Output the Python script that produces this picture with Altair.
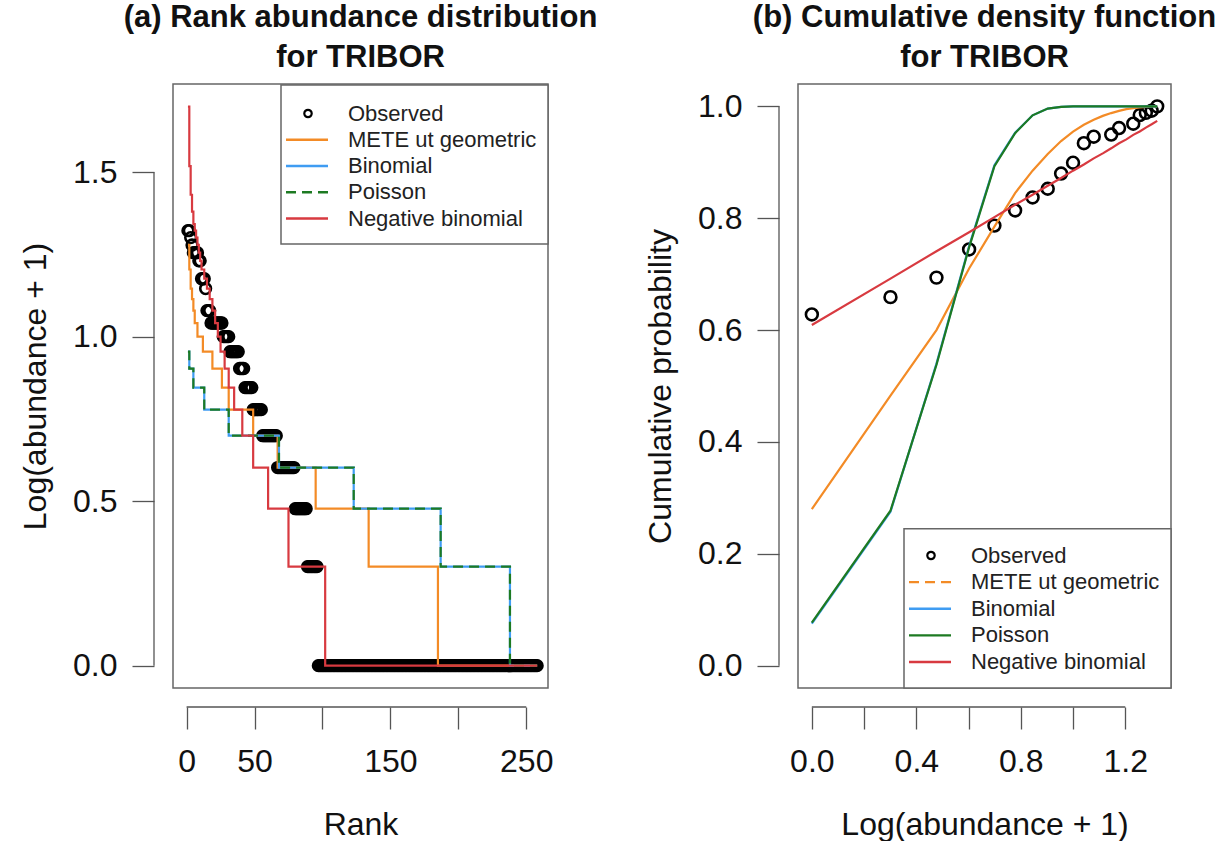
import altair as alt
import numpy as np
import pandas as pd

FONT = "Liberation Sans"
AXIS_GRAY = "#555555"
FRAME_GRAY = "#666666"
TEXT = "#111111"

series_names = ["Observed", "METE ut geometric", "Binomial", "Poisson", "Negative binomial"]
series_colors = ["#000000", "#F38B26", "#3F9CF2", "#1D7A22", "#D83A40"]

# ---------- (a) rank abundance: abundance level and number of species at that level ----------
obs_levels = [20, 19, 18, 17, 16, 14, 13, 11, 10, 9, 8, 7, 6, 5, 4, 3, 2, 1, 0]
obs_counts = [2, 1, 1, 4, 2, 3, 1, 3, 9, 5, 7, 4, 6, 7, 11, 13, 9, 8, 162]

mete_levels = [18, 15, 13, 12, 11, 10, 9, 8, 7, 6, 5, 4, 3, 2, 1, 0]
mete_counts = [1, 1, 1, 1, 1, 2, 4, 7, 7, 5, 18, 18, 28, 39, 51, 74]

binom_levels = [8, 7, 6, 5, 4, 3, 2, 1, 0]
binom_counts = [1, 3, 8, 18, 37, 55, 64, 51, 21]

pois_levels = [8, 7, 6, 5, 4, 3, 2, 1, 0]
pois_counts = [1, 3, 8, 18, 37, 55, 64, 51, 21]

negbin_levels = [49, 32, 26, 23, 21, 20, 19, 18, 17, 16, 15, 14, 13, 12, 11, 10, 9, 8, 7, 6, 5, 4, 3, 2, 1, 0]
negbin_counts = [1, 1, 1, 1, 1, 1, 1, 1, 1, 1, 2, 2, 2, 2, 2, 2, 2, 3, 3, 4, 6, 8, 11, 15, 27, 157]

# ---------- (b) cumulative density at abundance 0..20 ----------
cdf_abund = list(range(21))
cdf_mete = [0.280, 0.483, 0.600, 0.710, 0.785, 0.845, 0.885, 0.915, 0.938, 0.955, 0.967,
            0.976, 0.983, 0.988, 0.992, 0.995, 0.997, 0.998, 0.999, 1.0, 1.0]
cdf_binom = [0.075, 0.275, 0.540, 0.750, 0.895, 0.953, 0.984, 0.996, 0.999, 1.0, 1.0,
             1.0, 1.0, 1.0, 1.0, 1.0, 1.0, 1.0, 1.0, 1.0, 1.0]
cdf_pois = [0.077, 0.277, 0.538, 0.748, 0.893, 0.952, 0.984, 0.996, 0.999, 1.0, 1.0,
            1.0, 1.0, 1.0, 1.0, 1.0, 1.0, 1.0, 1.0, 1.0, 1.0]
cdf_negbin = [0.609, 0.692, 0.741, 0.775, 0.802, 0.824, 0.842, 0.858, 0.872, 0.885, 0.896,
              0.907, 0.916, 0.925, 0.934, 0.941, 0.949, 0.955, 0.962, 0.968, 0.974]


def rank_frame(levels, counts):
    vals = np.repeat(np.array(levels, dtype=float), counts)
    return pd.DataFrame({"rank": np.arange(1, len(vals) + 1), "value": np.log10(vals + 1)})


obs_rank = rank_frame(obs_levels, obs_counts)
mete_rank = rank_frame(mete_levels, mete_counts)
binom_rank = rank_frame(binom_levels, binom_counts)
pois_rank = rank_frame(pois_levels, pois_counts)
negbin_rank = rank_frame(negbin_levels, negbin_counts)

n_species = int(sum(obs_counts))
asc = sorted(zip(obs_levels, obs_counts))
obs_cdf = pd.DataFrame({
    "x": [np.log10(a + 1) for a, _ in asc],
    "p": list(np.cumsum([c for _, c in asc]) / n_species),
})


def cdf_frame(values):
    return pd.DataFrame({"x": np.log10(np.array(cdf_abund, dtype=float) + 1), "p": values})


W_A, W_B, H = 375, 373, 604
OFF = 19


def axis(title, values, fmt, label_expr=None, lab_pad=15, title_pad=20):
    kw = dict(title=title, values=values, format=fmt, offset=OFF, domain=False, grid=False,
              tickSize=22, tickColor=AXIS_GRAY, tickWidth=1.3,
              labelFont=FONT, labelFontSize=32, labelColor=TEXT, labelPadding=lab_pad,
              labelOverlap=False, labelFlush=False,
              titleFont=FONT, titleFontSize=32, titleFontWeight="normal", titleColor=TEXT,
              titlePadding=title_pad)
    if label_expr:
        kw["labelExpr"] = label_expr
    return alt.Axis(**kw)


one = pd.DataFrame({"k": [0]})
leg_df = pd.DataFrame({"label": series_names})


def legend_layer(width, y_top, y_bot, row_range, dashes):
    leg_y = alt.Y("label:N", scale=alt.Scale(type="point", domain=series_names, range=row_range, padding=0),
                  axis=None)
    box = alt.Chart(one).mark_rect(fill="white", stroke=FRAME_GRAY, strokeWidth=1.5).encode(
        x=alt.value(width - 267), x2=alt.value(width), y=alt.value(y_top), y2=alt.value(y_bot))
    lines = alt.Chart(leg_df).transform_filter(alt.datum.label != "Observed").mark_rule(strokeWidth=2.4).encode(
        x=alt.value(width - 262), x2=alt.value(width - 220), y=leg_y,
        color=alt.Color("label:N", scale=alt.Scale(domain=series_names, range=series_colors), legend=None),
        strokeDash=alt.StrokeDash("label:N", scale=alt.Scale(domain=series_names, range=dashes), legend=None))
    pt = alt.Chart(leg_df).transform_filter(alt.datum.label == "Observed").mark_point(
        shape="circle", filled=False, size=55, strokeWidth=2.2, color="black", opacity=1).encode(
        x=alt.value(width - 240), y=leg_y)
    txt = alt.Chart(leg_df).mark_text(align="left", baseline="middle", fontSize=22, font=FONT,
                                      color="#222222").encode(
        x=alt.value(width - 200), y=leg_y, text="label:N")
    return alt.layer(box, lines, pt, txt)


# ---------------- panel (a) ----------------
xs_a = alt.Scale(domain=[-10, 266], nice=False, zero=False)
ys_a = alt.Scale(domain=[-0.068, 1.768], nice=False, zero=False)
ax_xa = axis("Rank", [0, 50, 100, 150, 200, 250], "d",
             "(datum.value == 100 || datum.value == 200) ? '' : datum.label", lab_pad=17, title_pad=32)
ax_ya = axis("Log(abundance + 1)", [0.0, 0.5, 1.0, 1.5], ".1f")

pts_a = alt.Chart(obs_rank).mark_point(shape="circle", filled=False, size=115, strokeWidth=2.6,
                                       color="black", opacity=1).encode(
    x=alt.X("rank:Q", scale=xs_a, axis=ax_xa), y=alt.Y("value:Q", scale=ys_a, axis=ax_ya))


def step(df, color, dash=None):
    kw = dict(interpolate="step-after", strokeWidth=2.2, color=color)
    if dash:
        kw["strokeDash"] = dash
    return alt.Chart(df).mark_line(**kw).encode(x="rank:Q", y="value:Q")


ylin_a = alt.Chart(one).mark_rule(color=AXIS_GRAY, strokeWidth=1.3).encode(
    x=alt.value(-OFF), y=alt.Y(datum=0.0), y2=alt.Y2(datum=1.5))
xlin_a = alt.Chart(one).mark_rule(color=AXIS_GRAY, strokeWidth=1.3).encode(
    y=alt.value(H + OFF), x=alt.X(datum=0), x2=alt.X2(datum=250))

data_a = alt.layer(
    pts_a,
    step(mete_rank, series_colors[1]),
    step(binom_rank, series_colors[2]),
    step(pois_rank, series_colors[3], [10, 6]),
    step(negbin_rank, series_colors[4]),
    ylin_a, xlin_a,
)
leg_a = legend_layer(W_A, 1, 160, [29.5, 134.5],
                     [[1, 0], [1, 0], [1, 0], [10, 6], [1, 0]])
panel_a = alt.layer(data_a, leg_a).resolve_scale(y="independent").properties(
    width=W_A, height=H,
    title=alt.TitleParams(["(a) Rank abundance distribution", "for TRIBOR"], font=FONT, fontSize=31,
                          fontWeight="bold", color=TEXT, anchor="middle", frame="group",
                          lineHeight=40, offset=10))

# ---------------- panel (b) ----------------
xs_b = alt.Scale(domain=[-0.053, 1.375], nice=False, zero=False)
ys_b = alt.Scale(domain=[-0.04, 1.04], nice=False, zero=False)
ax_xb = axis("Log(abundance + 1)", [0.0, 0.2, 0.4, 0.6, 0.8, 1.0, 1.2], ".1f",
             "indexof(['0.2', '0.6', '1.0'], datum.label) >= 0 ? '' : datum.label", lab_pad=17, title_pad=32)
ax_yb = axis("Cumulative probability", [0.0, 0.2, 0.4, 0.6, 0.8, 1.0], ".1f")

pts_b = alt.Chart(obs_cdf).mark_point(shape="circle", filled=False, size=140, strokeWidth=2.6,
                                      color="black", opacity=1).encode(
    x=alt.X("x:Q", scale=xs_b, axis=ax_xb), y=alt.Y("p:Q", scale=ys_b, axis=ax_yb))


def cline(values, color):
    return alt.Chart(cdf_frame(values)).mark_line(strokeWidth=2.2, color=color).encode(x="x:Q", y="p:Q")


ylin_b = alt.Chart(one).mark_rule(color=AXIS_GRAY, strokeWidth=1.3).encode(
    x=alt.value(-OFF), y=alt.Y(datum=0.0), y2=alt.Y2(datum=1.0))
xlin_b = alt.Chart(one).mark_rule(color=AXIS_GRAY, strokeWidth=1.3).encode(
    y=alt.value(H + OFF), x=alt.X(datum=0.0), x2=alt.X2(datum=1.2))

data_b = alt.layer(
    pts_b,
    cline(cdf_mete, series_colors[1]),
    cline(cdf_binom, series_colors[2]),
    cline(cdf_pois, series_colors[3]),
    cline(cdf_negbin, series_colors[4]),
    ylin_b, xlin_b,
)
leg_b = legend_layer(W_B, 444.7, 604, [471.5, 578],
                     [[1, 0], [10, 6], [1, 0], [1, 0], [1, 0]])
panel_b = alt.layer(data_b, leg_b).resolve_scale(y="independent").properties(
    width=W_B, height=H,
    title=alt.TitleParams(["(b) Cumulative density function", "for TRIBOR"], font=FONT, fontSize=31,
                          fontWeight="bold", color=TEXT, anchor="middle", frame="group",
                          lineHeight=40, offset=10))

chart = alt.hconcat(panel_a, panel_b, spacing=44).resolve_scale(
    strokeDash="independent"
).properties(
    padding={"left": 18, "top": 1, "right": 0, "bottom": 0},
    background="white",
).configure(font=FONT).configure_view(stroke=FRAME_GRAY, strokeWidth=1.5)

chart.save("out.html", embed_options={"renderer": "svg", "actions": False})
